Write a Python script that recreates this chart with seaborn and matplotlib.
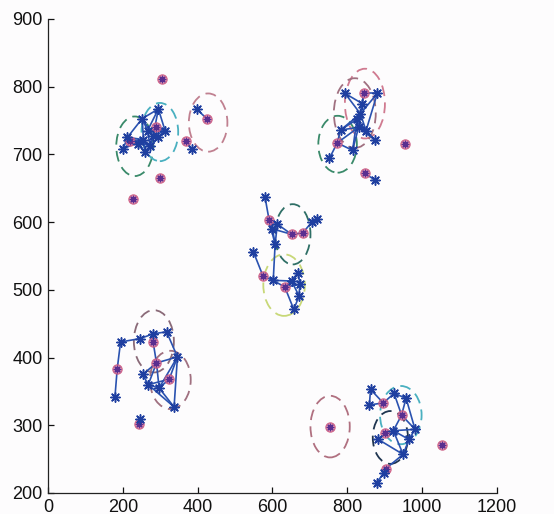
import numpy as np
import pandas as pd
import seaborn as sns
from matplotlib import pyplot as plt
from matplotlib.patches import Ellipse

# nodes of each group: x, y, which ones are red circles, and the links
tl_x = [295, 252, 212, 201, 259, 255, 273, 295, 313, 281, 219, 290, 266, 240]
tl_y = [767, 753, 725, 708, 703, 722, 712, 725, 735, 727, 720, 740, 735, 715]
tl_red = [10, 11]
tl_edges = [(1, 0), (1, 2), (1, 5), (0, 9), (0, 8), (2, 3), (2, 5), (3, 5), (5, 6), (6, 4),
            (5, 4), (6, 7), (7, 8), (9, 8), (9, 6), (2, 6), (4, 7), (1, 9), (10, 5), (11, 8),
            (11, 9), (12, 6), (12, 0), (13, 4), (13, 2), (10, 13), (12, 8), (1, 12)]

tr_x = [794, 844, 880, 835, 830, 782, 773, 752, 814, 874, 850, 840, 826]
tr_y = [790, 790, 790, 760, 740, 736, 717, 694, 706, 721, 735, 775, 752]
tr_red = [1, 6]
tr_edges = [(0, 3), (1, 3), (2, 3), (1, 2), (3, 4), (4, 5), (5, 6), (6, 7), (4, 8), (4, 9),
            (4, 10), (3, 10), (8, 6), (5, 3), (2, 10), (9, 10), (4, 6), (11, 3), (11, 1),
            (12, 3), (12, 8), (12, 10), (0, 11), (12, 5)]

md_x = [580, 591, 613, 607, 651, 681, 718, 705, 549, 575, 602, 633, 669, 673, 671, 657, 651, 600]
md_y = [637, 603, 597, 567, 582, 584, 604, 600, 556, 520, 514, 504, 525, 508, 491, 471, 513, 590]
md_red = [1, 4, 5, 9, 11]
md_edges = [(0, 1), (1, 2), (1, 17), (17, 3), (2, 3), (2, 4), (4, 5), (5, 7), (7, 6), (3, 10),
            (8, 9), (9, 10), (10, 16), (16, 12), (12, 13), (13, 14), (14, 15), (11, 15), (10, 11),
            (11, 12), (16, 14), (2, 17), (1, 3), (17, 4), (11, 13)]

bl_x = [194, 246, 281, 317, 281, 185, 179, 346, 290, 253, 268, 297, 324, 337]
bl_y = [423, 428, 435, 438, 423, 383, 342, 401, 392, 375, 360, 355, 368, 327]
bl_red = [4, 5, 8, 12]
bl_edges = [(0, 1), (1, 2), (2, 3), (2, 4), (0, 5), (5, 6), (3, 7), (7, 8), (8, 9), (9, 10),
            (10, 11), (11, 12), (12, 7), (8, 10), (8, 11), (11, 13), (10, 13), (7, 13), (4, 8),
            (7, 11), (12, 10)]

br_x = [862, 859, 896, 925, 957, 945, 981, 923, 900, 883, 965, 949, 903, 898, 878]
br_y = [353, 330, 333, 347, 340, 315, 294, 292, 288, 279, 279, 257, 236, 230, 215]
br_red = [2, 5, 8, 12]
br_edges = [(0, 1), (1, 2), (0, 2), (2, 3), (3, 4), (3, 5), (4, 5), (5, 6), (5, 7), (6, 10),
            (7, 8), (8, 9), (7, 6), (7, 10), (10, 11), (11, 12), (12, 13), (13, 14), (7, 11),
            (4, 6), (9, 11)]

# loose nodes (star, red circle pairs and single red circles)
lone_x = [304, 228, 299, 397, 424, 384, 369, 954, 847, 874, 246, 244, 754, 1052]
lone_y = [811, 634, 665, 767, 753, 708, 720, 716, 672, 662, 309, 302, 297, 271]
lone_red = [0, 1, 2, 4, 6, 7, 8, 11, 12, 13]
lone_edges = [(3, 4), (5, 6), (8, 9), (10, 11)]

# dashed ellipses
ell_x = [232, 299, 428, 774, 847, 820, 654, 631, 283, 327, 754, 943, 915]
ell_y = [712, 733, 747, 715, 775, 761, 582, 507, 424, 367, 298, 315, 282]
ell_w = [99, 98, 103, 103, 107, 112, 95, 111, 107, 109, 105, 111, 94]
ell_h = [88, 86, 86, 84, 103, 103, 89, 91, 92, 86, 91, 86, 78]
ell_col = ['#3a8a6a', '#4ab0c0', '#c08090', '#3a8a6a', '#d07a90', '#a07080', '#2f6f66',
           '#c8d878', '#8a6a78', '#a07080', '#b07080', '#4ab0c0', '#1f3550']

groups = [(tl_x, tl_y, tl_red, tl_edges), (tr_x, tr_y, tr_red, tr_edges),
          (md_x, md_y, md_red, md_edges), (bl_x, bl_y, bl_red, bl_edges),
          (br_x, br_y, br_red, br_edges), (lone_x, lone_y, lone_red, lone_edges)]

rows = []
for gx, gy, gred, ged in groups:
    for i in range(len(gx)):
        rows.append((gx[i], gy[i], 'red' if i in gred else 'star'))
df = pd.DataFrame(rows, columns=['x', 'y', 'kind'])

sns.set_style('white')
plt.rcParams['font.family'] = ['Liberation Sans', 'DejaVu Sans']

fig = plt.figure(figsize=(5.54, 5.14), dpi=100)
fig.patch.set_facecolor('#fdfcfd')
ax = fig.add_axes([0.0866, 0.0409, 0.8105, 0.9222])
ax.set_facecolor('#fdfcfd')

for cx, cy, w, h, c in zip(ell_x, ell_y, ell_w, ell_h, ell_col):
    ax.add_patch(Ellipse((cx, cy), w, h, fill=False, edgecolor=c, lw=1.3,
                         linestyle=(0, (6, 3.5)), zorder=2))

for gx, gy, gred, ged in groups:
    for a, b in ged:
        ax.plot([gx[a], gx[b]], [gy[a], gy[b]], color='#2a52b0', lw=1.2, zorder=3)

red = df[df.kind == 'red']
sns.scatterplot(data=red, x='x', y='y', marker='o', s=45, color='#e38aa8',
                edgecolor='#c8507a', linewidth=0.8, alpha=0.85, ax=ax, zorder=4, legend=False)
sns.scatterplot(data=red, x='x', y='y', marker=(8, 2, 0), s=22, color='#5a2f90',
                linewidth=0.9, ax=ax, zorder=5, legend=False)
stars = df[df.kind == 'star']
sns.scatterplot(data=stars, x='x', y='y', marker=(8, 2, 0), s=45, color='#1f3fa0',
                linewidth=1.1, ax=ax, zorder=5, legend=False)

ax.set_xlim(0, 1200)
ax.set_ylim(200, 900)
ax.set_xticks(range(0, 1201, 200))
ax.set_yticks(range(200, 901, 100))
ax.set_xlabel('')
ax.set_ylabel('')
sns.despine(ax=ax)
for s in ['left', 'bottom']:
    ax.spines[s].set_color('#222222')
    ax.spines[s].set_linewidth(0.9)
ax.tick_params(direction='in', length=4, width=0.9, labelsize=13, colors='#111111',
               left=True, bottom=True)
ax.tick_params(axis='y', pad=4)
ax.tick_params(axis='x', pad=4)

fig.savefig('out.png', dpi=100, facecolor=fig.get_facecolor())
